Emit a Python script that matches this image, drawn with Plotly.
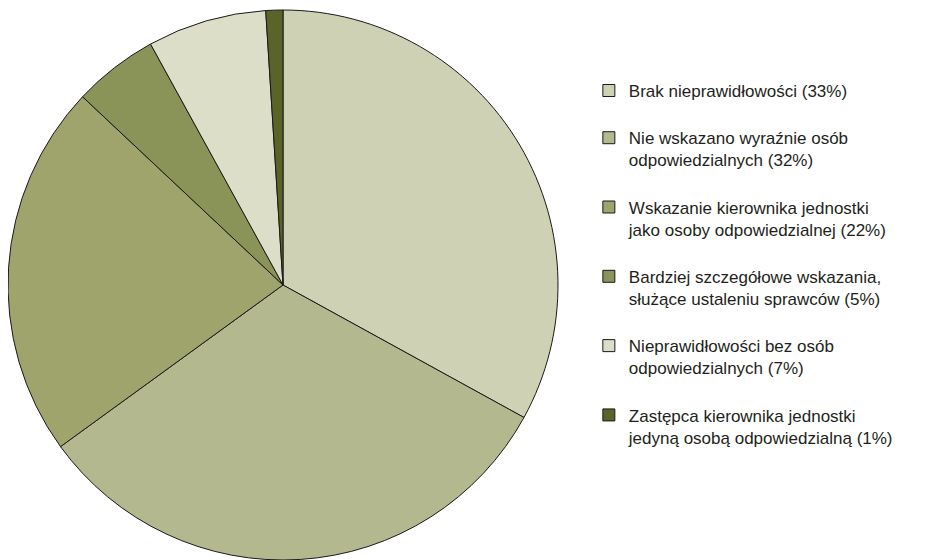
import plotly.graph_objects as go

labels = [
    "Brak nieprawidłowości (33%)",
    "Nie wskazano wyraźnie osób<br>odpowiedzialnych (32%)",
    "Wskazanie kierownika jednostki<br>jako osoby odpowiedzialnej (22%)",
    "Bardziej szczegółowe wskazania,<br>służące ustaleniu sprawców (5%)",
    "Nieprawidłowości bez osób<br>odpowiedzialnych (7%)",
    "Zastępca kierownika jednostki<br>jedyną osobą odpowiedzialną (1%)",
]
values = [33, 32, 22, 5, 7, 1]
colors = ["#cfd1b5", "#b4b88e", "#9fa46c", "#8a9459", "#dcdec8", "#5a6428"]

W, H = 946, 560
fig = go.Figure(go.Pie(
    labels=[l + "<br> " for l in labels],
    values=values,
    marker=dict(colors=colors, line=dict(color="#1a1a1a", width=1)),
    sort=False,
    direction="clockwise",
    rotation=0,
    textinfo="none",
    hoverinfo="label+percent",
    domain=dict(x=[0.0, 550 / W], y=[7 / H, 559 / H]),
))

fig.update_layout(
    width=W, height=H,
    margin=dict(l=0, r=0, t=0, b=0),
    paper_bgcolor="white",
    showlegend=True,
    legend=dict(
        x=0.614, y=0.884, xanchor="left", yanchor="top",
        valign="top",
        font=dict(family="Liberation Sans", size=17, color="#231f20"),
        traceorder="normal",
    ),
)

fig.write_html("out.html")
